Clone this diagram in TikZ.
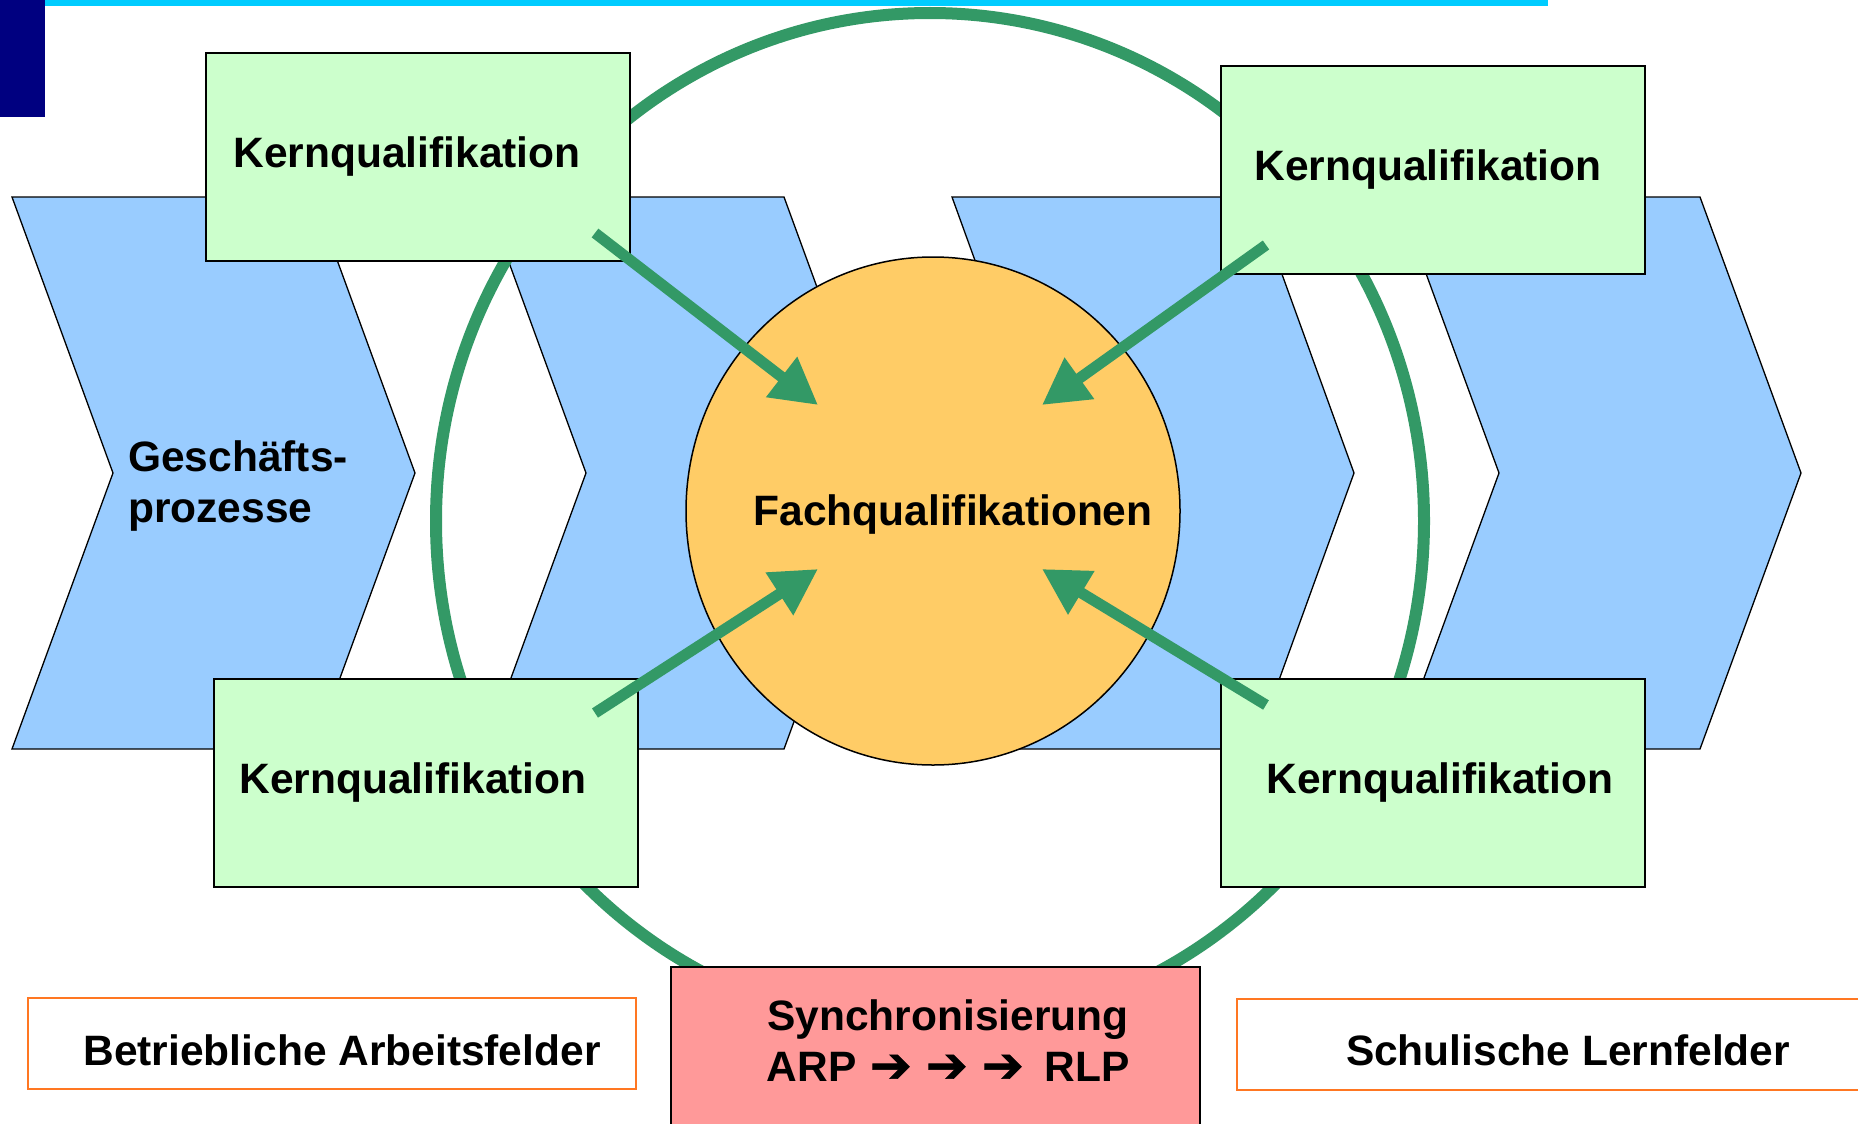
\documentclass[tikz,border=0pt]{standalone}
\usepackage{fontspec}
\setmainfont{Liberation Sans}
\newfontfamily\dejavuheavy[FakeBold=1.2]{DejaVu Sans Bold}
\usetikzlibrary{arrows.meta}
\definecolor{chev}{HTML}{99CCFF}
\definecolor{kqfill}{HTML}{CCFFCC}
\definecolor{fachfill}{HTML}{FFCC66}
\definecolor{syncfill}{HTML}{FF9999}
\definecolor{ringgreen}{HTML}{339966}
\definecolor{navybar}{HTML}{000080}
\definecolor{cyanbar}{HTML}{00CCFF}
\definecolor{orangeline}{HTML}{FF7722}
\newcommand{\bigarrowglyph}{\makebox[37pt][c]{\dejavuheavy\fontsize{50pt}{50pt}\selectfont\raisebox{-1pt}{➔}}}
\tikzset{
  bigtext/.style={font=\fontsize{42.5pt}{51pt}\selectfont\bfseries},
  chevron/.style={fill=chev, draw=black, line width=1.3pt, line join=miter},
  ring/.style={draw=ringgreen, line width=12pt},
  kqbox/.style={rectangle, fill=kqfill, draw=black, line width=1.8pt, minimum width=424pt, minimum height=208pt, inner sep=0pt, bigtext},
  garrow/.style={draw=ringgreen, line width=11pt, -{Triangle[length=46pt,width=48pt]}},
  labelbox/.style={rectangle, draw=orangeline, fill=white, line width=1.6pt, inner sep=0pt},
  syncbox/.style={rectangle, fill=syncfill, draw=black, line width=1.8pt, inner sep=0pt},
}
\begin{document}
\begin{tikzpicture}[x=1pt,y=-1pt]
\useasboundingbox (0,0) rectangle (1858,1124);
\clip (0,0) rectangle (1858,1124);
\fill[white] (0,0) rectangle (1858,1124);
% header bars
\fill[navybar] (0,0) rectangle (45,117);
\fill[cyanbar] (45,0) rectangle (1548,6.5);
% chevrons
\path[chevron] (12,197) -- (314,197) -- (415,473) -- (314,749) -- (12,749) -- (113,473) -- cycle;
\path[chevron] (485,197) -- (784,197) -- (885,473) -- (784,749) -- (485,749) -- (586,473) -- cycle;
\path[chevron] (952,197) -- (1254,197) -- (1354,473) -- (1254,749) -- (952,749) -- (1052,473) -- cycle;
\path[chevron] (1398,197) -- (1700,197) -- (1801,473) -- (1700,749) -- (1398,749) -- (1499,473) -- cycle;
\node[bigtext, anchor=west, align=left, inner sep=0pt] (gp) at (128,486) {Geschäfts-\\prozesse};
% green ring
\draw[ring] (930,521) ellipse [x radius=494pt, y radius=508pt];
% central circle
\fill[fachfill, draw=black, line width=1.5pt] (933,511) ellipse [x radius=247pt, y radius=254pt];
\node[bigtext, inner sep=0pt] (fach) at (953,515) {Fachqualifikationen};
% Kernqualifikation boxes
\node[kqbox] (kq1) at (418,157) {Kernqualifikation\kern22pt};
\node[kqbox] (kq2) at (1433,170) {Kernqualifikation\kern10pt};
\node[kqbox] (kq3) at (426,783) {Kernqualifikation\kern26pt};
\node[kqbox] (kq4) at (1433,783) {\kern14pt Kernqualifikation};
% arrows
\coordinate (a1s) at (595,233);  \coordinate (a1e) at (818,405);
\coordinate (a2s) at (1266,245); \coordinate (a2e) at (1042,405);
\coordinate (a3s) at (595,713);  \coordinate (a3e) at (818,569);
\coordinate (a4s) at (1266,705); \coordinate (a4e) at (1042,569);
\draw[garrow] (a1s) -- (a1e);
\draw[garrow] (a2s) -- (a2e);
\draw[garrow] (a3s) -- (a3e);
\draw[garrow] (a4s) -- (a4e);
% bottom boxes
\node[labelbox, minimum width=608pt, minimum height=91pt] (ba) at (332,1043.5) {};
\node[bigtext, inner sep=0pt] (batext) at (342,1050) {Betriebliche Arbeitsfelder};
\node[syncbox, anchor=north west, minimum width=529pt, minimum height=240pt] (sync) at (670,966) {};
\node[bigtext, align=center, inner sep=0pt] (synctext) at (948,1041) {Synchronisierung\\ARP\hspace{16pt}\bigarrowglyph\hspace{19pt}\bigarrowglyph\hspace{19pt}\bigarrowglyph\hspace{23pt}RLP};
\node[labelbox, anchor=north west, minimum width=700pt, minimum height=91pt] (sl) at (1236,998) {};
\node[bigtext, inner sep=0pt] (sltext) at (1568,1050) {Schulische Lernfelder};
\end{tikzpicture}
\end{document}
